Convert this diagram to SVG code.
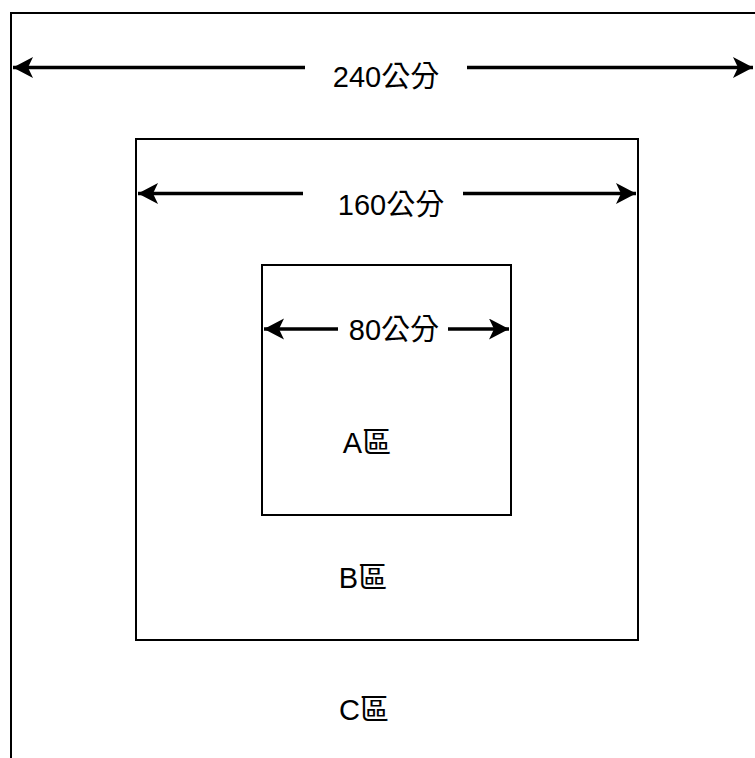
<svg xmlns="http://www.w3.org/2000/svg" width="755" height="758" viewBox="0 0 755 758">
<style>
.box{fill:#fff;stroke:#000;stroke-width:2}
.dim{stroke:#000;stroke-width:3.5;fill:none}
.lbl{font-family:"Liberation Sans","Noto Sans CJK TC",sans-serif;font-size:29px;fill:#000;text-anchor:middle}
.bg{fill:#fff}
</style>
<defs>
<marker id="ah" markerUnits="userSpaceOnUse" markerWidth="22" markerHeight="22" refX="20" refY="10.5" orient="auto-start-reverse" viewBox="0 0 22 22">
<path d="M20,10.5 L0,0 L5,10.5 L0,21 Z" fill="#000"/>
</marker>
</defs>
<g id="zoneC"><rect class="box" x="11" y="13" width="760" height="760"/></g>
<g id="zoneB"><rect class="box" x="136" y="139" width="502" height="501"/></g>
<g id="zoneA"><rect class="box" x="262" y="265" width="249" height="250"/></g>
<g id="connectors">
<line class="dim" x1="13" y1="67.5" x2="753" y2="67.5" marker-start="url(#ah)" marker-end="url(#ah)"/>
<line class="dim" x1="138" y1="193.5" x2="636" y2="193.5" marker-start="url(#ah)" marker-end="url(#ah)"/>
<line class="dim" x1="264" y1="329" x2="509" y2="329" marker-start="url(#ah)" marker-end="url(#ah)"/>
</g>
<g id="label240"><rect class="bg" x="305" y="50" width="162" height="40"/><text class="lbl" x="386" y="87">240公分</text></g>
<g id="label160"><rect class="bg" x="303" y="176" width="160" height="40"/><text class="lbl" x="391" y="215">160公分</text></g>
<g id="label80"><rect class="bg" x="338" y="312" width="110" height="36"/><text class="lbl" x="394" y="340">80公分</text></g>
<g id="labelA"><text class="lbl" x="367" y="453">A區</text></g>
<g id="labelB"><text class="lbl" x="363" y="588">B區</text></g>
<g id="labelC"><text class="lbl" x="364" y="720">C區</text></g>
</svg>
